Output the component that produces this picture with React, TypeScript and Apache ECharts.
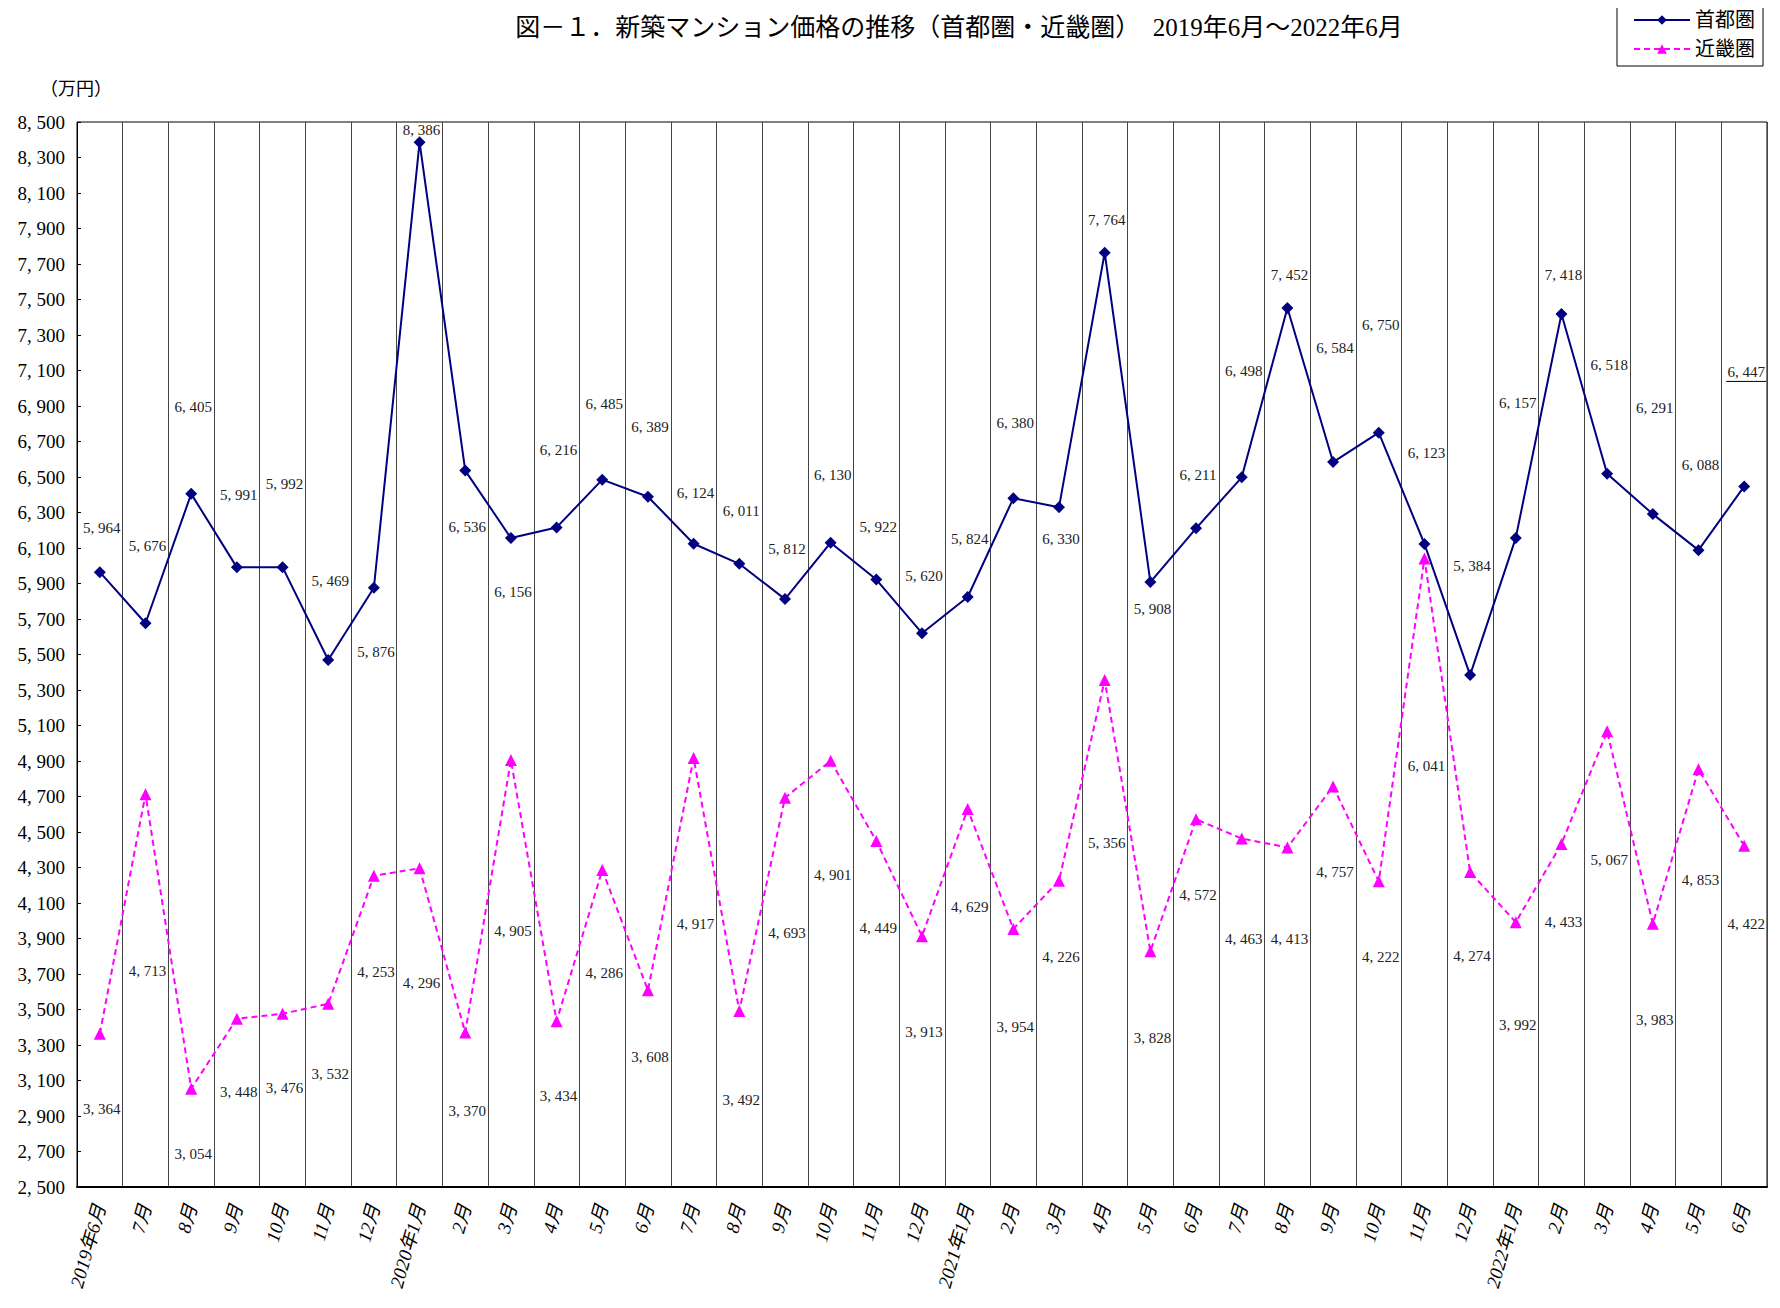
import React, { useEffect, useRef } from "react";
import * as echarts from "echarts";

const categories = [
  "2019年6月", "7月", "8月", "9月", "10月", "11月", "12月",
  "2020年1月", "2月", "3月", "4月", "5月", "6月", "7月", "8月", "9月", "10月", "11月", "12月",
  "2021年1月", "2月", "3月", "4月", "5月", "6月", "7月", "8月", "9月", "10月", "11月", "12月",
  "2022年1月", "2月", "3月", "4月", "5月", "6月",
];

const tokyo = [
  5964, 5676, 6405, 5991, 5992, 5469, 5876, 8386, 6536, 6156, 6216, 6485, 6389,
  6124, 6011, 5812, 6130, 5922, 5620, 5824, 6380, 6330, 7764, 5908, 6211, 6498,
  7452, 6584, 6750, 6123, 5384, 6157, 7418, 6518, 6291, 6088, 6447,
];

const kinki = [
  3364, 4713, 3054, 3448, 3476, 3532, 4253, 4296, 3370, 4905, 3434, 4286, 3608,
  4917, 3492, 4693, 4901, 4449, 3913, 4629, 3954, 4226, 5356, 3828, 4572, 4463,
  4413, 4757, 4222, 6041, 4274, 3992, 4433, 5067, 3983, 4853, 4422,
];

// label vertical offsets (style only)
const tokyoLabelDy = [
  -39, -68, -77, -63, -73, -70, 56, -11, 49, 48, -68, -67, -62, -45, -47, -44, -60,
  -47, -50, -51, -66, 28, -29, 24, -47, -93, -29, -100, -95, -80, -96, -119, -34,
  -96, -93, -75, -100,
];
const kinkiLabelDy = [
  66, 156, 57, 64, 65, 62, 85, 101, 69, 151, 66, 91, 59, 146, 78, 119, 100, 77, 85,
  86, 86, 67, 144, 77, 67, 88, 81, 76, 67, 183, 74, 91, 69, 114, 85, 98, 69,
];

const SERIF = "'Liberation Serif', 'DejaVu Serif', 'Noto Sans CJK JP', serif";
const fmt = (v: number) => v.toLocaleString("en-US").replace(",", ", ");
const K = 1 / 0.8809;

export default function App() {
  const ref = useRef<HTMLDivElement>(null);
  useEffect(() => {
    if (!ref.current) return;
    const chart = echarts.init(ref.current, undefined, { renderer: "svg" });
    const mk = (vals: number[], dys: number[]) =>
      vals.map((v, i) => ({
        value: v,
        label: { offset: [2, Math.round(dys[i] * K)] },
      }));
    const labelStyle = {
      show: true,
      position: "inside",
      formatter: (p: any) => fmt(p.value),
      fontFamily: SERIF,
      fontSize: 15,
      color: "#222",
    };
    const baseGraphic: any[] = [
      {
        type: "text",
        left: 40,
        top: 80,
        style: { text: "（万円）", font: `18px ${SERIF}`, fill: "#000" },
      },
      {
        type: "line",
        shape: { x1: 1, y1: 0, x2: 1, y2: 1308 },
        style: { stroke: "#888", lineWidth: 2 },
      },
    ];
    chart.setOption({
      animation: false,
      backgroundColor: "#fff",
      textStyle: { fontFamily: SERIF },
      title: {
        text: "図－１．新築マンション価格の推移（首都圏・近畿圏）　2019年6月～2022年6月",
        left: 954,
        textAlign: "center",
        top: 10,
        textStyle: { fontFamily: SERIF, fontSize: 25, fontWeight: "normal", color: "#000" },
      },
      legend: {
        orient: "vertical",
        right: 17,
        top: 3,
        itemWidth: 56,
        itemHeight: 12,
        itemGap: 9,
        padding: [7, 8, 7, 16],
        borderColor: "#000",
        borderWidth: 1,
        textStyle: { fontFamily: SERIF, fontSize: 20, color: "#000" },
        data: ["首都圏", "近畿圏"],
      },
      graphic: baseGraphic,
      grid: {
        left: 77,
        right: 13,
        top: 122,
        bottom: 121,
        show: true,
        borderColor: "#000",
        borderWidth: 1,
      },
      xAxis: {
        type: "category",
        data: categories,
        boundaryGap: true,
        axisLine: { lineStyle: { color: "#000", width: 2 } },
        axisTick: { show: false },
        splitLine: { show: true, interval: 0, lineStyle: { color: "#444", width: 1 } },
        axisLabel: {
          interval: 0,
          rotate: 74,
          fontFamily: SERIF,
          fontStyle: "italic",
          fontSize: 19,
          color: "#000",
          margin: 18,
        },
      },
      yAxis: {
        type: "value",
        min: 2500,
        max: 8500,
        interval: 200,
        axisLine: { show: true, lineStyle: { color: "#000", width: 1 } },
        axisTick: { show: true, inside: true, length: 4, lineStyle: { color: "#000" } },
        splitLine: { show: false },
        axisLabel: {
          formatter: fmt,
          fontFamily: SERIF,
          fontSize: 19,
          color: "#000",
          margin: 12,
        },
      },
      series: [
        {
          name: "首都圏",
          type: "line",
          data: mk(tokyo, tokyoLabelDy),
          symbol: "diamond",
          symbolSize: 12,
          itemStyle: { color: "#000080" },
          lineStyle: { color: "#000080", width: 2 },
          label: labelStyle,
          z: 3,
        },
        {
          name: "近畿圏",
          type: "line",
          data: mk(kinki, kinkiLabelDy),
          symbol: "triangle",
          symbolSize: 12,
          itemStyle: { color: "#FF00FF" },
          lineStyle: { color: "#FF00FF", width: 2, type: [6, 4] },
          label: labelStyle,
          z: 2,
        },
      ],
    });
    // underline under the last 首都圏 label, as in the source
    const last = tokyo.length - 1;
    const pt = chart.convertToPixel({ seriesIndex: 0 }, [last, tokyo[last]]) as number[];
    if (pt) {
      const cy = pt[1] + Math.round(tokyoLabelDy[last] * K);
      const cx = pt[0] + 2;
      chart.setOption({
        graphic: [
          ...baseGraphic,
          {
            type: "line",
            shape: { x1: cx - 20, y1: cy + 9, x2: cx + 20, y2: cy + 9 },
            style: { stroke: "#000", lineWidth: 1 },
          },
        ],
      });
    }
    return () => chart.dispose();
  }, []);
  return <div ref={ref} style={{ width: 1780, height: 1308, margin: -8 }} />;
}
